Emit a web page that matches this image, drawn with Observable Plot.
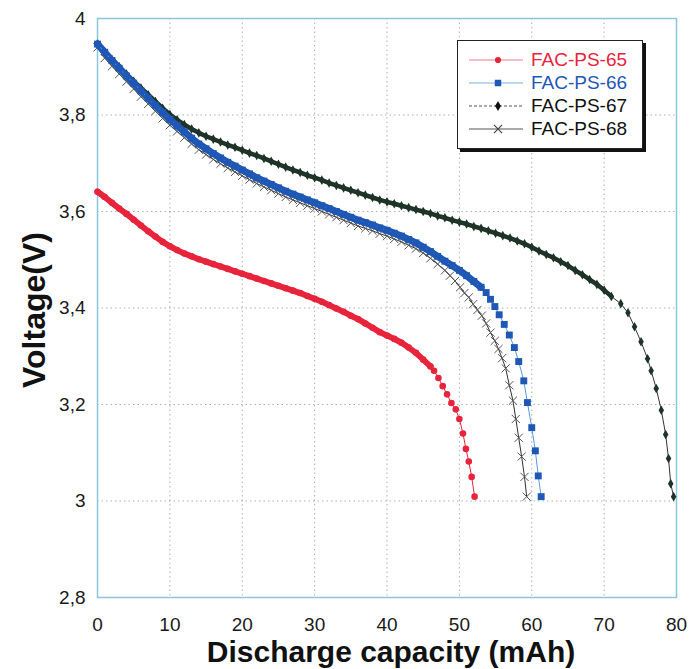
<!DOCTYPE html>
<html>
<head>
<meta charset="utf-8">
<script src="https://cdn.jsdelivr.net/npm/d3@7"></script>
<script src="https://cdn.jsdelivr.net/npm/@observablehq/plot@0.6"></script>
<style>
  body { margin: 0; background: #fff; font-family: "Liberation Sans", Arial, sans-serif; }
  #wrap { position: relative; width: 691px; height: 669px; }
  #legend { position: absolute; left: 457px; top: 40px; width: 184px; height: 107px;
            border: 1px solid #222; box-shadow: 3px 3px 0 #111; background: #fff; }
  .row { position: absolute; left: 0; height: 22px; width: 184px; }
  .row svg { position: absolute; left: 8px; top: 0; }
  .row span { position: absolute; left: 73px; top: 0px; font-size: 19px; line-height: 22px; }
</style>
</head>
<body>
<div id="wrap"></div>
<script>
// ---------- data ----------
const seriesNames = ["FAC-PS-65", "FAC-PS-66", "FAC-PS-67", "FAC-PS-68"];

const cap65 = [0,1,2,3,4,5,6,7,8,9,10,11,12,13,14,15,16,17,18,19,20,21,22,23,24,25,26,27,28,29,30,31,32,33,34,35,36,37,38,39,40,41,42,43,44,45,46,
  46.5,47.1,47.7,48.3,48.9,49.5,50.0,50.5,50.9,51.3,51.7,52.1];
const volt65 = [3.641,3.630,3.618,3.606,3.595,3.583,3.571,3.559,3.548,3.537,3.528,3.520,3.513,3.507,3.501,3.496,3.491,3.486,3.481,3.476,
  3.471,3.466,3.461,3.456,3.451,3.446,3.441,3.436,3.431,3.425,3.419,3.413,3.406,3.399,3.392,3.384,3.377,3.368,3.359,3.350,
  3.343,3.336,3.328,3.318,3.307,3.293,3.279,
  3.270,3.255,3.238,3.221,3.203,3.190,3.170,3.140,3.108,3.082,3.050,3.009];

const cap66 = [0,1,2,3,4,5,6,7,8,9,10,11,12,13,14,15,16,17,18,19,20,21,22,23,24,25,26,27,28,29,30,31,32,33,34,35,36,37,38,39,40,41,42,43,44,45,46,47,48,49,50,51,52,53,
  53.7,54.3,54.9,55.5,56.2,56.9,57.6,58.2,58.9,59.4,60.0,60.5,60.9,61.3];
const volt66 = [3.947,3.930,3.913,3.897,3.881,3.866,3.850,3.835,3.820,3.805,3.791,3.778,3.765,3.752,3.740,3.730,3.720,3.711,3.702,3.694,
  3.686,3.678,3.670,3.663,3.656,3.649,3.642,3.636,3.630,3.624,3.618,3.612,3.606,3.600,3.594,3.588,3.582,3.577,3.572,3.566,
  3.561,3.555,3.549,3.542,3.535,3.526,3.517,3.507,3.497,3.488,3.478,3.467,3.455,3.443,
  3.432,3.418,3.403,3.386,3.366,3.344,3.318,3.289,3.249,3.204,3.152,3.104,3.052,3.009];

const cap67 = [0,1,2,3,4,5,6,7,8,9,10,11,12,13,14,15,16,17,18,19,20,21,22,23,24,25,26,27,28,29,30,31,32,33,34,35,36,37,38,39,40,
  41,42,43,44,45,46,47,48,49,50,51,52,53,54,55,56,57,58,59,60,61,62,63,64,65,66,67,68,69,70,71,
  72.3,73.3,74.2,75.1,76.0,76.5,77.2,77.9,78.5,78.9,79.2,79.6];
const volt67 = [3.947,3.931,3.915,3.900,3.885,3.870,3.856,3.842,3.828,3.814,3.801,3.790,3.780,3.771,3.763,3.756,3.750,3.744,3.738,3.733,
  3.727,3.721,3.716,3.710,3.704,3.698,3.692,3.686,3.681,3.675,3.670,3.665,3.659,3.654,3.649,3.644,3.639,3.634,3.629,3.624,
  3.620,3.616,3.612,3.608,3.604,3.600,3.596,3.591,3.587,3.582,3.578,3.574,3.569,3.565,3.560,3.555,3.550,3.545,3.539,3.533,
  3.526,3.518,3.511,3.504,3.496,3.488,3.478,3.469,3.459,3.449,3.437,3.424,
  3.409,3.390,3.361,3.330,3.295,3.270,3.233,3.188,3.138,3.088,3.036,3.009];

const cap68 = [0,1,2,3,4,5,6,7,8,9,10,11,12,13,14,15,16,17,18,19,20,21,22,23,24,25,26,27,28,29,30,31,32,33,34,35,36,37,38,39,40,41,42,43,44,45,46,47,48,
  48.7,49.4,50.1,50.7,51.3,51.9,52.5,53.1,53.7,54.3,54.9,55.4,55.9,56.4,56.9,57.4,57.8,58.2,58.6,59.0,59.3];
const volt68 = [3.940,3.918,3.901,3.885,3.869,3.854,3.838,3.823,3.808,3.793,3.779,3.766,3.753,3.740,3.728,3.718,3.708,3.699,3.690,3.682,
  3.674,3.666,3.658,3.651,3.644,3.637,3.630,3.624,3.618,3.612,3.606,3.600,3.594,3.588,3.582,3.576,3.570,3.565,3.560,3.554,
  3.549,3.543,3.537,3.530,3.523,3.514,3.503,3.491,3.478,
  3.467,3.456,3.443,3.431,3.422,3.408,3.396,3.384,3.368,3.349,3.332,3.315,3.296,3.275,3.240,3.208,3.170,3.131,3.092,3.050,3.009];

const xTicks = [0,10,20,30,40,50,60,70,80];
const yTicks = [2.8,3,3.2,3.4,3.6,3.8,4];
const yTickLabels = ["2,8","3","3,2","3,4","3,6","3,8","4"];
const xTitle = "Discharge capacity (mAh)";
const yTitle = "Voltage(V)";

// ---------- build tables ----------
function toRows(caps, volts) { return caps.map((c, i) => ({cap: c, v: volts[i]})); }
const d65 = toRows(cap65, volt65);
const d66 = toRows(cap66, volt66);
const d67 = toRows(cap67, volt67);
const d68 = toRows(cap68, volt68);
// dense part of each curve (where markers overlap into a band)
const band65 = d65.filter(d => d.cap <= 46);
const band66 = d66.filter(d => d.cap <= 53);
const band67 = d67.filter(d => d.cap <= 71);

const yLab = new Map(yTicks.map((t, i) => [t, yTickLabels[i]]));

const C65 = "#e8243c", C66 = "#1f57b5", C67 = "#1c3326";

const chart = Plot.plot({
  width: 691,
  height: 669,
  marginLeft: 97,
  marginRight: 15,
  marginTop: 18,
  marginBottom: 72,
  style: {fontFamily: "Liberation Sans, Arial, sans-serif", fontSize: "19px", color: "#1a1a1a", background: "#fff"},
  x: {domain: [0, 80]},
  y: {domain: [2.8, 4]},
  marks: [
    Plot.gridX(xTicks, {stroke: "#8a9aa8", strokeOpacity: 0.75, strokeDasharray: "1.5,3"}),
    Plot.gridY(yTicks, {stroke: "#8a9aa8", strokeOpacity: 0.75, strokeDasharray: "1.5,3"}),
    Plot.frame({stroke: "#8cc6dc", strokeWidth: 1.5}),
    Plot.axisX(xTicks, {tickSize: 0, tickPadding: 20, fontSize: 19, label: null}),
    Plot.axisY(yTicks, {tickSize: 0, tickPadding: 12, fontSize: 19, label: null, tickFormat: d => yLab.get(d)}),
    // FAC-PS-67
    Plot.line(band67, {x: "cap", y: "v", stroke: C67, strokeWidth: 4.5}),
    Plot.line(d67, {x: "cap", y: "v", stroke: "#333", strokeWidth: 1}),
    Plot.dot(d67, {x: "cap", y: "v", symbol: "diamond", r: 2.9, fill: C67}),
    // FAC-PS-68
    Plot.line(d68, {x: "cap", y: "v", stroke: "#333", strokeWidth: 1}),
    Plot.dot(d68, {x: "cap", y: "v", symbol: "times", r: 3.8, stroke: "#555", strokeWidth: 1}),
    // FAC-PS-66
    Plot.line(band66, {x: "cap", y: "v", stroke: C66, strokeWidth: 7}),
    Plot.line(d66, {x: "cap", y: "v", stroke: "#5a9ad8", strokeWidth: 1}),
    Plot.dot(d66, {x: "cap", y: "v", symbol: "square", r: 3.9, fill: C66}),
    // FAC-PS-65
    Plot.line(band65, {x: "cap", y: "v", stroke: C65, strokeWidth: 6}),
    Plot.line(d65, {x: "cap", y: "v", stroke: C65, strokeWidth: 1}),
    Plot.dot(d65, {x: "cap", y: "v", symbol: "circle", r: 3.3, fill: C65}),
    // axis titles
    Plot.text([yTitle], {frameAnchor: "left", textAnchor: "middle", lineAnchor: "middle", dx: -63, dy: 2, rotate: -90,
      fontSize: 32, fontWeight: "bold", fill: "#111", ariaLabel: "ytitle"}),
    Plot.text([xTitle], {frameAnchor: "bottom", textAnchor: "middle", lineAnchor: "middle", dx: 4, dy: 55,
      fontSize: 30, fontWeight: "bold", fill: "#111", ariaLabel: "xtitle"})
  ]
});

// stretch the y title to the reference's length
d3.select(chart).selectAll('g[aria-label="ytitle"] text').attr("textLength", 188).attr("lengthAdjust", "spacingAndGlyphs");

const wrap = document.getElementById("wrap");
wrap.appendChild(chart);

// ---------- legend ----------
const legendStyles = [
  {name: seriesNames[0], text: C65, line: "#f07a88", dash: null, sym: "circle", fill: C65, stroke: null},
  {name: seriesNames[1], text: C66, line: "#7fb0e0", dash: null, sym: "square", fill: C66, stroke: null},
  {name: seriesNames[2], text: "#111", line: "#555", dash: "3,2", sym: "diamond", fill: "#111", stroke: null},
  {name: seriesNames[3], text: "#111", line: "#555", dash: null, sym: "times", fill: "none", stroke: "#444"}
];
const legend = document.createElement("div");
legend.id = "legend";
const symMap = {circle: d3.symbolCircle, square: d3.symbolSquare, diamond: d3.symbolDiamond, times: d3.symbolTimes};
legendStyles.forEach((s, i) => {
  const row = document.createElement("div");
  row.className = "row";
  row.style.top = (8 + i * 23) + "px";
  const svg = d3.create("svg").attr("width", 60).attr("height", 22);
  const ln = svg.append("line").attr("x1", 3).attr("x2", 57).attr("y1", 11).attr("y2", 11)
    .attr("stroke", s.line).attr("stroke-width", 1.2);
  if (s.dash) ln.attr("stroke-dasharray", s.dash);
  const size = s.sym === "times" ? 45 : (s.sym === "square" ? 42 : 30);
  svg.append("path").attr("transform", "translate(32,11)")
    .attr("d", d3.symbol(symMap[s.sym], size)())
    .attr("fill", s.fill).attr("stroke", s.stroke || "none").attr("stroke-width", 1.2);
  row.appendChild(svg.node());
  const span = document.createElement("span");
  span.textContent = s.name;
  span.style.color = s.text;
  row.appendChild(span);
  legend.appendChild(row);
});
wrap.appendChild(legend);
</script>
</body>
</html>
